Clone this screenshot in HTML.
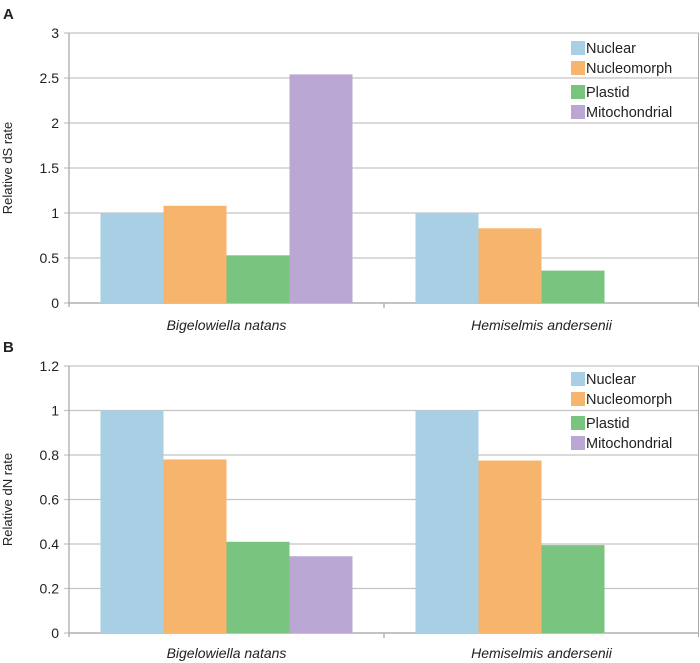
<!DOCTYPE html>
<html><head><meta charset="utf-8"><style>
body{margin:0;background:#fff;width:700px;height:663px;overflow:hidden}
svg{display:block;font-family:"Liberation Sans",Arial,sans-serif}
</style></head><body>
<svg id="c" width="700" height="663"></svg>
<script>
const categories=["Bigelowiella natans","Hemiselmis andersenii"];
const seriesNames=["Nuclear","Nucleomorph","Plastid","Mitochondrial"];
const dsNuclear=[1,1];
const dsNucleomorph=[1.08,0.83];
const dsPlastid=[0.53,0.36];
const dsMito=[2.54,null];
const dnNuclear=[1,1];
const dnNucleomorph=[0.78,0.775];
const dnPlastid=[0.41,0.395];
const dnMito=[0.345,null];
const ticksA=[0,0.5,1,1.5,2,2.5,3];
const ticksB=[0,0.2,0.4,0.6,0.8,1,1.2];
const colors=["#a8cfe3","#f6b46d","#79c47f","#baa7d4"];
const NS="http://www.w3.org/2000/svg";
const svg=document.getElementById('c');
function mk(t,a,p){const e=document.createElementNS(NS,t);for(const k in a)e.setAttribute(k,a[k]);(p||svg).appendChild(e);return e;}
function panel(id,top,bottom,ymax,ticks,series,title,letter,legY,labY){
  const g=mk('g',{});
  
  
  const x0=69,x1=699;
  const y=v=>bottom-(v/ymax)*(bottom-top);
  const t=mk('text',{x:3,y:top-14,'font-size':15,'font-weight':'bold',fill:'#222'},g);t.textContent=letter;
  
  
  ticks.forEach(v=>{
    const l=mk('line',{x1:64,x2:x1,y1:y(v),y2:y(v),stroke:'#c4c4c4','stroke-width':1.3},g);
    
    
    const tx=mk('text',{x:59,y:y(v)+5,'font-size':14,'text-anchor':'end',fill:'#222'},g);tx.textContent=String(v);
    
    
  });
  mk('line',{x1:x0,x2:x0,y1:top,y2:bottom+4,stroke:'#aaa','stroke-width':1.3},g);
  mk('line',{x1:x0,x2:x1,y1:bottom,y2:bottom,stroke:'#aaa','stroke-width':1.3},g);
  mk('line',{x1:x1-0.5,x2:x1-0.5,y1:top,y2:bottom+4,stroke:'#aaa','stroke-width':1},g);
  const gw=(x1-x0)/categories.length,bw=63;
  mk('line',{x1:x0+gw,x2:x0+gw,y1:bottom,y2:bottom+5,stroke:'#aaa','stroke-width':1.3},g);
  categories.forEach((c,i)=>{
    const gs=x0+i*gw+(gw-4*bw)/2;
    series.forEach((s,j)=>{
      const v=s[i];if(v==null)return;
      const r=mk('rect',{x:gs+j*bw,y:y(v),width:bw,height:bottom-y(v),fill:colors[j]},g);
      
      
    });
    const lb=mk('text',{x:x0+i*gw+gw/2,y:labY,'font-size':14,'font-style':'italic','text-anchor':'middle',fill:'#222'},g);lb.textContent=c;
    
    
  });
  const at=mk('text',{transform:`translate(12,${(top+bottom)/2}) rotate(-90)`,'font-size':13,'text-anchor':'middle',fill:'#222'},g);at.textContent=title;
  
  
  const lg=mk('g',{},g);
  
  
  const offs=[0,20,44,64];
  seriesNames.forEach((n,j)=>{
    const e=mk('g',{},lg);
    
    
    mk('rect',{x:571,y:legY+offs[j]-7,width:14,height:14,fill:colors[j]},e);
    const tt=mk('text',{x:586,y:legY+offs[j]+5,'font-size':14.5,fill:'#222'},e);tt.textContent=n;
  });
}
panel('a',33,303,3,ticksA,[dsNuclear,dsNucleomorph,dsPlastid,dsMito],'Relative dS rate','A',48,330);
panel('b',366,633,1.2,ticksB,[dnNuclear,dnNucleomorph,dnPlastid,dnMito],'Relative dN rate','B',379,658);
</script>
</body></html>
